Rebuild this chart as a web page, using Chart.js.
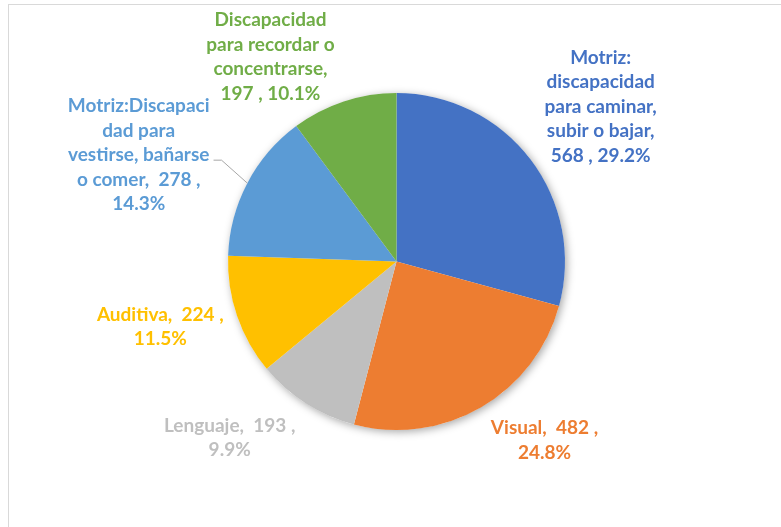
<!DOCTYPE html>
<html>
<head>
<meta charset="utf-8">
<script src="https://cdn.jsdelivr.net/npm/chart.js@4.4.1/dist/chart.umd.min.js"></script>
<style>
  html, body { margin: 0; padding: 0; background: #fff; }
  #wrap { position: relative; width: 781px; height: 527px; overflow: hidden; }
  #frame { position: absolute; left: 8px; top: 4px; width: 800px; height: 600px;
           border-top: 1.5px solid #d9d9d9; border-left: 1.5px solid #d9d9d9; }
  canvas { position: absolute; left: 0; top: 0; }
</style>
</head>
<body>
<div id="wrap">
  <div id="frame"></div>
  <canvas id="pieChart" width="781" height="527"></canvas>
</div>
<script>
"use strict";

var categories = [
    'Motriz: discapacidad para caminar, subir o bajar',
    'Visual',
    'Lenguaje',
    'Auditiva',
    'Motriz:Discapacidad para vestirse, bañarse o comer',
    'Discapacidad para recordar o concentrarse'
];
var values = [568, 482, 193, 224, 278, 197];
var colors = ['#4472c4', '#ed7d31', '#bfbfbf', '#ffc000', '#5b9bd5', '#70ad47'];

// wrapped label text, {v} = value, {p} = percent
var labelLines = [
    ['Motriz:', 'discapacidad', 'para caminar,', 'subir o bajar,', '{v} , {p}'],
    ['Visual,  {v} ,', '{p}'],
    ['Lenguaje,  {v} ,', '{p}'],
    ['Auditiva,  {v} ,', '{p}'],
    ['Motriz:Discapaci', 'dad para', 'vestirse, bañarse', 'o comer,  {v} ,', '{p}'],
    ['Discapacidad', 'para recordar o', 'concentrarse,', '{v} , {p}']
];

// label placement: distance (x radius) and angle shift (deg) from slice middle
var labelDist = [1.52, 1.377, 1.44, 1.455, 1.655, 1.425];
var labelShift = [0.2, -9.6, 10.9, 3.3, -5.3, -13.4];
var leader = [false, false, false, false, true, false];

var total = values.reduce(function(a, b) { return a + b; }, 0);

var pieShadow = {
    id: 'pieShadow',
    beforeDatasetsDraw: function(chart) {
        var arc = chart.getDatasetMeta(0).data[0];
        var ctx = chart.ctx;
        ctx.save();
        ctx.shadowColor = 'rgba(0,0,0,0.35)';
        ctx.shadowBlur = 9;
        ctx.shadowOffsetX = 2;
        ctx.shadowOffsetY = 2;
        ctx.fillStyle = '#ffffff';
        ctx.beginPath();
        ctx.arc(arc.x, arc.y, arc.outerRadius, 0, Math.PI * 2);
        ctx.fill();
        ctx.restore();
    }
};

var pieLabels = {
    id: 'pieLabels',
    afterDatasetsDraw: function(chart) {
        var ctx = chart.ctx;
        var lh = 24.5;
        ctx.save();
        ctx.font = 'bold 19px Lato';
        ctx.textAlign = 'center';
        ctx.textBaseline = 'middle';
        chart.getDatasetMeta(0).data.forEach(function(arc, i) {
            var mid = (arc.startAngle + arc.endAngle) / 2 + labelShift[i] * Math.PI / 180;
            var r = arc.outerRadius * labelDist[i];
            var cx = arc.x + Math.cos(mid) * r;
            var cy = arc.y + Math.sin(mid) * r;
            var pct = (values[i] / total * 100).toFixed(1) + '%';
            var lines = labelLines[i].map(function(s) {
                return s.replace('{v}', values[i]).replace('{p}', pct);
            });
            var y0 = cy - (lines.length - 1) * lh / 2;
            ctx.fillStyle = colors[i];
            var maxW = 0;
            lines.forEach(function(s, k) {
                ctx.fillText(s, cx, y0 + k * lh);
                maxW = Math.max(maxW, ctx.measureText(s).width);
            });
            if (leader[i]) {
                var am = (arc.startAngle + arc.endAngle) / 2;
                var sx = cx + maxW / 2 + 4;
                var sy = cy + 5;
                ctx.strokeStyle = '#a6a6a6';
                ctx.lineWidth = 1;
                ctx.beginPath();
                ctx.moveTo(sx, sy);
                ctx.lineTo(sx + 8, sy);
                ctx.lineTo(arc.x + Math.cos(am) * arc.outerRadius, arc.y + Math.sin(am) * arc.outerRadius);
                ctx.stroke();
            }
        });
        ctx.restore();
    }
};

var pie = document.getElementById('pieChart').getContext('2d');
var myPieChart = new Chart(pie, {
    type: 'pie',
    data: {
        labels: categories,
        datasets: [{
            data: values,
            backgroundColor: colors,
            borderWidth: 0
        }]
    },
    options: {
        responsive: false,
        animation: false,
        layout: {
            padding: { top: 93, bottom: 97, left: 228, right: 216 }
        },
        plugins: {
            legend: { display: false },
            tooltip: { enabled: false }
        }
    },
    plugins: [pieShadow, pieLabels]
});
</script>
</body>
</html>
